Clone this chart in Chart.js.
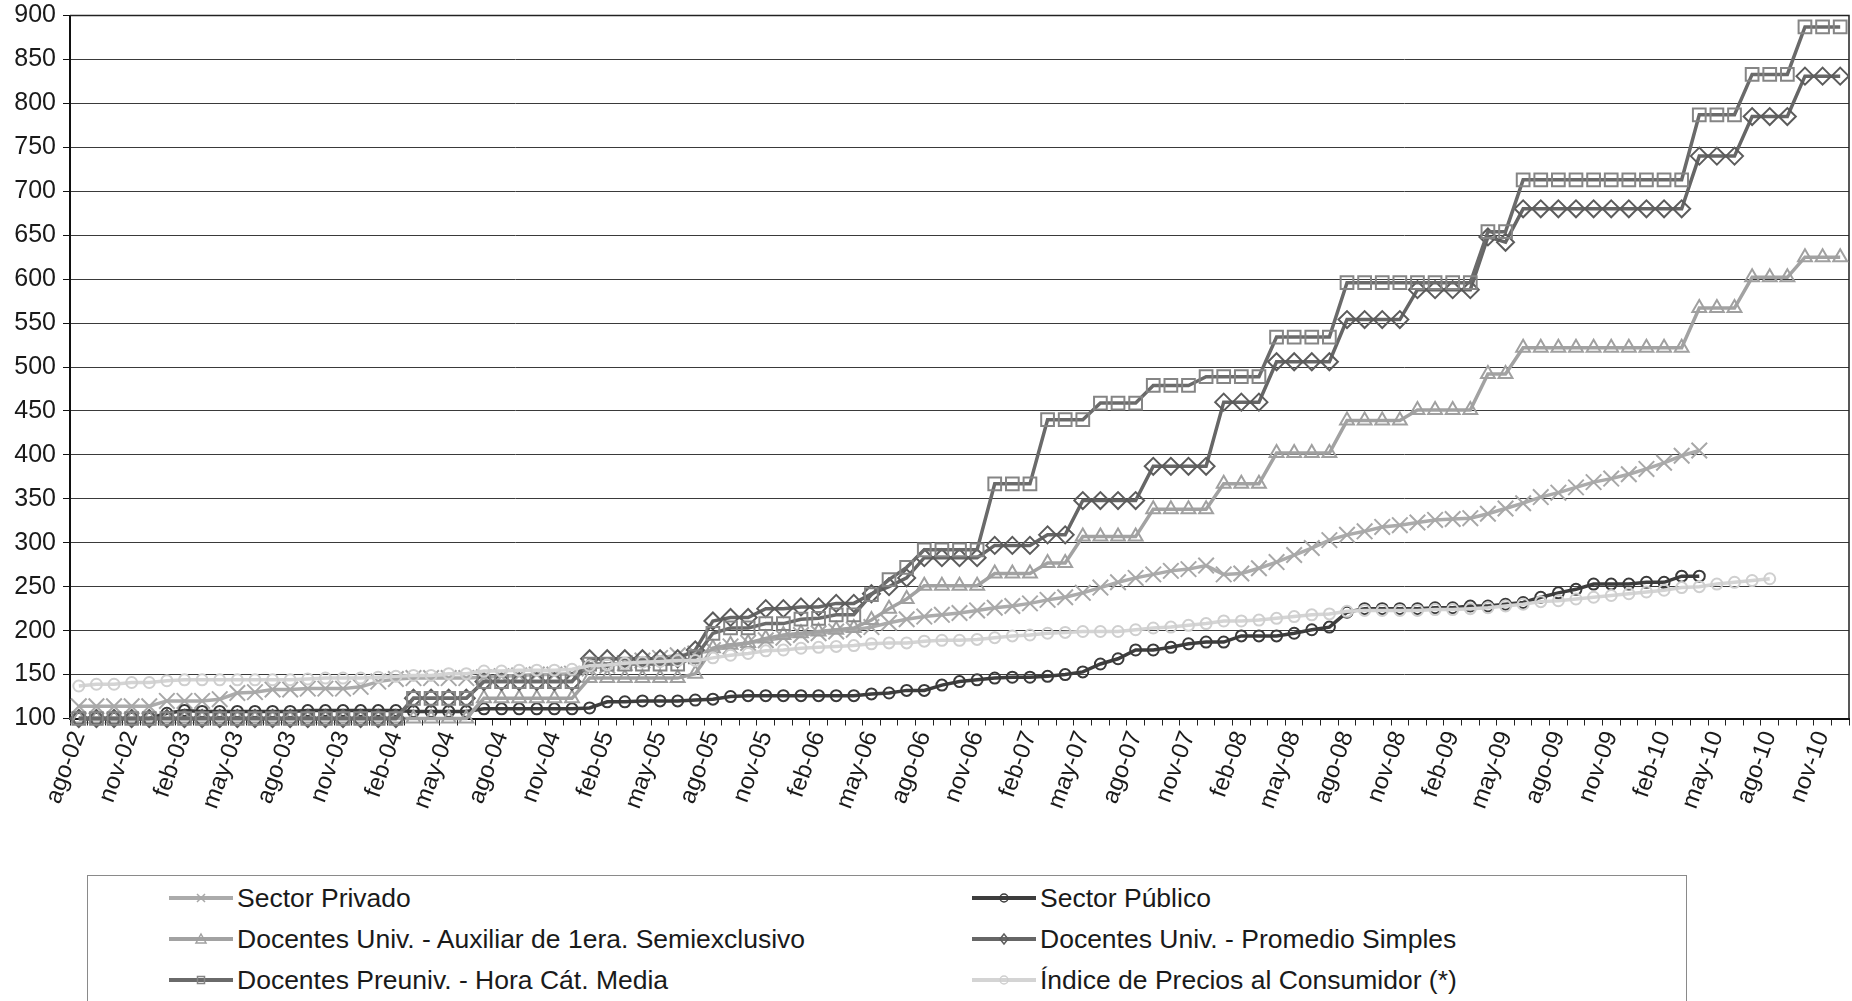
<!DOCTYPE html>
<html><head><meta charset="utf-8">
<script src="https://cdn.jsdelivr.net/npm/chart.js@4/dist/chart.umd.min.js"></script>
<style>
html,body{margin:0;padding:0;background:#fff;width:1852px;height:1001px;overflow:hidden;font-family:"Liberation Sans",Arial,sans-serif;}
#wrap{position:absolute;left:0;top:0;width:1852px;height:870px;}
#legend{position:absolute;left:87px;top:875px;width:1600px;height:150px;border:1px solid #8a8a8a;box-sizing:border-box;background:#fff;}
.item{position:absolute;height:34px;display:flex;align-items:center;font-size:26.5px;color:#1a1a1a;white-space:nowrap;}
.item canvas{margin-right:4px;display:block;}
</style></head>
<body>
<div id="wrap"><canvas id="c" width="1852" height="870"></canvas></div>
<div id="legend"></div>
<script>
// ---- categories (ago-02 .. dic-10) ----
const monthNames = ['ene','feb','mar','abr','may','jun','jul','ago','sep','oct','nov','dic'];
const startYear = 2002, startMonth = 7, endYear = 2010, endMonth = 11;
const categories = [];
for (let y = startYear; y <= endYear; y++) {
  for (let m = (y === startYear ? startMonth : 0); m <= (y === endYear ? endMonth : 11); m++) {
    categories.push(monthNames[m] + '-' + String(y % 100).padStart(2, '0'));
  }
}
const labelEvery = 3;
const yTicks = {min: 100, max: 900, step: 50};

// ---- series ----
const seriesNames = [
  'Sector Privado',
  'Sector Público',
  'Docentes Univ. - Auxiliar de 1era. Semiexclusivo',
  'Docentes Univ. - Promedio Simples',
  'Docentes Preuniv. - Hora Cát. Media',
  'Índice de Precios al Consumidor (*)'
];

const sectorPrivado = [
  114,114,114,114,114,120,120,120,122,129,
  130,133,133,134,134,134,136,142,145,146,
  146,146,146,147,148,149,150,150,151,157,
  160,163,166,169,172,174,178,182,186,189,
  192,195,197,199,201,204,209,213,216,218,
  220,223,226,228,231,235,238,243,249,255,
  260,264,268,270,274,264,265,271,278,286,
  294,303,309,313,318,320,323,326,327,328,
  333,339,345,352,357,363,369,373,378,384,
  391,399,405
];

const sectorPublico = [
  100,100,100,100,100,106,109,108,108,108,
  108,108,108,109,109,109,109,109,109,108,
  108,108,108,111,111,111,111,111,111,112,
  119,119,120,120,120,121,122,125,126,126,
  126,126,126,126,126,128,129,132,132,138,
  142,144,146,147,147,148,150,153,162,168,
  178,178,181,185,187,187,194,194,194,197,
  201,204,221,225,225,225,225,226,226,228,
  228,230,232,238,243,247,253,253,253,255,
  255,262,262
];

const docUnivAuxiliar = [
  100,100,100,100,100,100,100,100,100,100,
  100,100,100,100,100,100,100,100,100,100,
  100,100,100,123,123,123,123,123,123,146,
  146,146,146,146,146,151,180,184,186,191,
  195,197,199,201,203,212,225,236,251,251,
  251,251,265,265,265,277,277,307,307,307,
  307,338,338,338,338,367,367,367,402,402,
  402,402,439,439,439,439,451,451,451,451,
  492,492,522,522,522,522,522,522,522,522,
  522,522,567,567,567,602,602,602,625,625,
  625
];

const docUnivPromedio = [
  100,100,100,100,100,100,100,100,100,100,
  100,100,100,100,100,100,100,100,100,123,
  123,123,123,142,142,142,142,142,142,168,
  168,168,168,168,168,178,211,215,215,225,
  225,227,227,231,231,242,250,260,283,283,
  283,283,297,297,297,309,309,348,348,348,
  348,387,387,387,387,460,460,460,506,506,
  506,506,554,554,554,554,588,588,588,588,
  648,642,680,680,680,680,680,680,680,680,
  680,680,740,740,740,785,785,785,831,831,
  831
];

const docPreuniv = [
  100,100,100,100,100,100,100,100,100,100,
  100,100,100,100,100,100,100,100,100,123,
  123,123,123,142,142,142,142,142,142,162,
  162,162,162,162,162,170,197,203,203,208,
  208,213,214,218,218,241,258,272,292,292,
  292,292,367,367,367,440,440,440,459,459,
  459,479,479,479,489,489,489,489,534,534,
  534,534,596,596,596,596,596,596,596,596,
  654,654,713,713,713,713,713,713,713,713,
  713,713,787,787,787,833,833,833,887,887,
  887
];

const ipc = [
  137,139,139,141,141,143,144,144,144,144,
  144,144,144,145,146,146,146,147,148,149,
  149,151,151,154,154,155,155,155,156,160,
  161,163,164,165,166,166,169,172,174,177,
  178,180,181,182,183,185,186,186,188,189,
  189,190,192,194,195,197,198,199,199,199,
  201,203,204,206,208,211,211,212,214,216,
  218,219,222,223,223,223,223,224,224,225,
  226,228,230,233,234,236,238,240,242,244,
  246,249,250,253,255,257,259
];

const seriesData = [sectorPrivado, sectorPublico, docUnivAuxiliar, docUnivPromedio, docPreuniv, ipc];

// ---- styles ----
const lineColors  = ['#ababab','#3d3d3d','#a2a2a2','#666666','#6a6a6a','#d4d4d4'];
const pointColors = ['#a8a8a8','#3a3a3a','#a0a0a0','#5c5c5c','#858585','#cfcfcf'];
const pointStyles = ['crossRot','circle','triangle','rectRot','rect','circle'];
const pointRadii  = [11, 5.5, 8, 8.5, 9, 5.5];

const datasets = seriesData.map((d, k) => ({
  label: seriesNames[k],
  data: d,
  borderColor: lineColors[k],
  borderWidth: 3.5,
  pointStyle: pointStyles[k],
  pointRadius: pointRadii[k],
  pointHoverRadius: pointRadii[k],
  pointBorderColor: pointColors[k],
  pointBackgroundColor: 'rgba(0,0,0,0)',
  pointBorderWidth: 2,
  tension: 0,
  fill: false,
  clip: 14,
  order: seriesData.length - k
}));

const framePlugin = {
  id: 'frame',
  beforeDatasetsDraw(chart) {
    const {ctx, chartArea: a} = chart;
    ctx.save();
    ctx.strokeStyle = '#222';
    ctx.lineWidth = 1.5;
    ctx.beginPath();
    ctx.moveTo(a.left, a.top);
    ctx.lineTo(a.right, a.top);
    ctx.lineTo(a.right, a.bottom);
    ctx.stroke();
    ctx.restore();
  }
};

const plotLeft = 70;

new Chart(document.getElementById('c'), {
  type: 'line',
  data: {labels: categories, datasets},
  options: {
    responsive: false,
    devicePixelRatio: 1,
    animation: false,
    events: [],
    layout: {autoPadding: false, padding: {top: 15.5, right: 3, left: 0, bottom: 0}},
    plugins: {legend: {display: false}, tooltip: {enabled: false}},
    scales: {
      x: {
        type: 'category',
        offset: true,
        grid: {offset: true, drawOnChartArea: false, drawTicks: true, tickLength: 7, color: '#222', lineWidth: 1},
        border: {display: true, color: '#111', width: 2},
        ticks: {
          autoSkip: false, maxRotation: 70, minRotation: 70, padding: 2,
          color: '#1a1a1a',
          font: {family: '"Liberation Sans", Arial, sans-serif', size: 24},
          callback: function(v, i) { return i % labelEvery === 0 ? this.getLabelForValue(v) : ''; }
        },
        afterFit(s) { s.height = 151.5; s.paddingLeft = 0; s.paddingRight = 0; }
      },
      y: {
        min: yTicks.min, max: yTicks.max,
        grid: {color: '#3a3a3a', lineWidth: 1, drawTicks: true, tickLength: 7, tickColor: '#111'},
        border: {display: true, color: '#111', width: 2},
        ticks: {
          stepSize: yTicks.step, padding: 7, color: '#1a1a1a',
          font: {family: '"Liberation Sans", Arial, sans-serif', size: 25}
        },
        afterFit(s) { s.width = plotLeft; s.paddingTop = 0; s.paddingBottom = 0; }
      }
    }
  },
  plugins: [framePlugin]
});

// ---- legend (HTML) ----
function drawMarker(ctx, style, x, y, color) {
  ctx.strokeStyle = color; ctx.lineWidth = 1.5; ctx.beginPath();
  const r = 4;
  if (style === 'circle') { ctx.arc(x, y, r, 0, Math.PI * 2); }
  else if (style === 'rect') { ctx.rect(x - r + 0.5, y - r + 0.5, 2 * r - 1, 2 * r - 1); }
  else if (style === 'rectRot') { ctx.moveTo(x, y - r - 1); ctx.lineTo(x + r, y); ctx.lineTo(x, y + r + 1); ctx.lineTo(x - r, y); ctx.closePath(); }
  else if (style === 'triangle') { ctx.moveTo(x, y - r - 1); ctx.lineTo(x + r + 1, y + r); ctx.lineTo(x - r - 1, y + r); ctx.closePath(); }
  else if (style === 'crossRot') { ctx.moveTo(x - r, y - r); ctx.lineTo(x + r, y + r); ctx.moveTo(x + r, y - r); ctx.lineTo(x - r, y + r); }
  ctx.stroke();
}
const legend = document.getElementById('legend');
const colX = [81, 884], rowY = [22, 63, 104];
seriesNames.forEach((name, k) => {
  const item = document.createElement('div');
  item.className = 'item';
  item.style.left = colX[k % 2] + 'px';
  item.style.top = (rowY[Math.floor(k / 2)] - 17) + 'px';
  const cv = document.createElement('canvas');
  cv.width = 64; cv.height = 26;
  const cx = cv.getContext('2d');
  cx.strokeStyle = lineColors[k]; cx.lineWidth = 4;
  cx.beginPath(); cx.moveTo(0, 13); cx.lineTo(64, 13); cx.stroke();
  drawMarker(cx, pointStyles[k], 32, 13, pointColors[k]);
  const sp = document.createElement('span');
  sp.textContent = name;
  item.appendChild(cv); item.appendChild(sp);
  legend.appendChild(item);
});
</script>
</body></html>
